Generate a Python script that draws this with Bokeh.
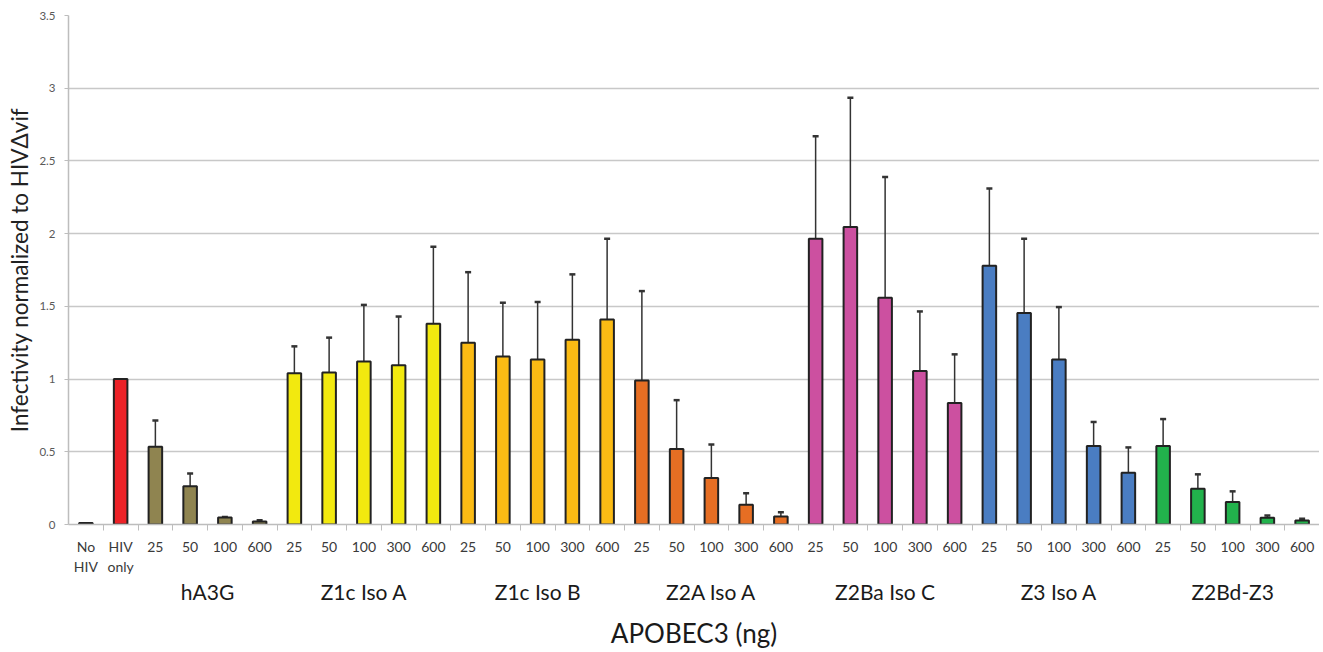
from bokeh.plotting import figure
from bokeh.models import (ColumnDataSource, Whisker, TeeHead, FixedTicker, LinearAxis,
                          NumeralTickFormatter, Range1d)
from bokeh.embed import file_html
from bokeh.resources import INLINE

# ---- data ----
tick_labels = ["No\nHIV", "HIV\nonly",
               "25", "50", "100", "600",
               "25", "50", "100", "300", "600",
               "25", "50", "100", "300", "600",
               "25", "50", "100", "300", "600",
               "25", "50", "100", "300", "600",
               "25", "50", "100", "300", "600",
               "25", "50", "100", "300", "600"]
values = [0.01, 1.00,
          0.535, 0.263, 0.048, 0.02,
          1.04, 1.045, 1.12, 1.095, 1.38,
          1.25, 1.155, 1.135, 1.27, 1.41,
          0.99, 0.52, 0.32, 0.135, 0.055,
          1.965, 2.045, 1.56, 1.055, 0.835,
          1.78, 1.455, 1.135, 0.54, 0.355,
          0.54, 0.245, 0.155, 0.047, 0.028]
error_tops = [None, None,
              0.715, 0.35, 0.052, 0.03,
              1.225, 1.285, 1.51, 1.43, 1.91,
              1.735, 1.525, 1.53, 1.72, 1.965,
              1.605, 0.855, 0.55, 0.215, 0.085,
              2.67, 2.935, 2.39, 1.465, 1.17,
              2.31, 1.965, 1.495, 0.705, 0.53,
              0.725, 0.345, 0.228, 0.062, 0.04]
group_names = ["hA3G", "Z1c Iso A", "Z1c Iso B", "Z2A Iso A", "Z2Ba Iso C", "Z3 Iso A", "Z2Bd-Z3"]
group_sizes = [4, 5, 5, 5, 5, 5, 5]
control_colors = ["#2a2a2a", "#ec2227"]
group_colors = ["#8f8450", "#f2e90f", "#fbbb14", "#e66e23", "#cc50a0", "#4a7dc2", "#22b24c"]

# ---- derived ----
n = len(values)
xs = list(range(n))
colors = list(control_colors)
group_centers = []
start = len(control_colors)
for size, col in zip(group_sizes, group_colors):
    colors += [col] * size
    group_centers.append(start + (size - 1) / 2)
    start += size

bar_src = ColumnDataSource(dict(x=xs, top=values, color=colors))
ex = [x for x, e in zip(xs, error_tops) if e is not None]
ev = [v for v, e in zip(values, error_tops) if e is not None]
eu = [e for e in error_tops if e is not None]
err_src = ColumnDataSource(dict(x=ex, lower=ev, upper=eu))

FONT = "Lato"

p = figure(width=1319, height=651, output_backend="svg", toolbar_location=None,
           x_range=Range1d(-0.5, 35.5), y_range=Range1d(0, 3.5),
           min_border_left=68, min_border_top=15, min_border_right=0, min_border_bottom=127)
p.outline_line_color = None
p.background_fill_color = "white"
p.xgrid.grid_line_color = None
p.ygrid.grid_line_color = "#c8c8c8"
p.ygrid.grid_line_width = 1.5
p.ygrid.ticker = FixedTicker(ticks=[0, 0.5, 1, 1.5, 2, 2.5, 3, 3.5])

err = Whisker(source=err_src, base="x", lower="lower", upper="upper",
              line_color="#333333", line_width=1.5,
              upper_head=TeeHead(size=6, line_color="#333333", line_width=2.5),
              lower_head=None)
p.add_layout(err)

p.vbar(x="x", top="top", width=0.39, source=bar_src, fill_color="color",
       line_color="#222222", line_width=2)

# y axis
ya = p.yaxis[0]
ya.ticker = FixedTicker(ticks=[0, 0.5, 1, 1.5, 2, 2.5, 3, 3.5])
ya.formatter = NumeralTickFormatter(format="0.[0]")
ya.axis_label = "Infectivity normalized to HIV\u0394vif"
ya.axis_label_text_font = FONT
ya.axis_label_text_font_size = "22.5px"
ya.axis_label_text_font_style = "normal"
ya.axis_label_text_color = "#222222"
ya.axis_label_standoff = 3
ya.major_label_text_font = FONT
ya.major_label_text_font_size = "11.5px"
ya.major_label_text_color = "#595959"
ya.major_label_standoff = 9
ya.axis_line_color = "#bdbdbd"
ya.axis_line_width = 1.5
ya.major_tick_line_color = "#bdbdbd"
ya.major_tick_out = 4
ya.major_tick_in = 0
ya.minor_tick_line_color = None

# x axis: doses
xa = p.xaxis[0]
xa.ticker = FixedTicker(ticks=xs, minor_ticks=[x + 0.5 for x in xs])
xa.major_label_overrides = {x: lab for x, lab in zip(xs, tick_labels)}
xa.major_label_text_font = FONT
xa.major_label_text_font_size = "14px"
xa.major_label_text_color = "#3a3a3a"
xa.major_label_standoff = 7
xa.major_tick_line_color = None
xa.major_tick_out = 0
xa.major_tick_in = 0
xa.minor_tick_line_color = "#bdbdbd"
xa.minor_tick_out = 6
xa.minor_tick_in = 0
xa.axis_line_color = "#bdbdbd"
xa.axis_line_width = 1.5

# x axis: groups + title
ga = LinearAxis(ticker=FixedTicker(ticks=group_centers, minor_ticks=[]))
ga.major_label_overrides = {c: g for c, g in zip(group_centers, group_names)}
ga.major_label_text_font = FONT
ga.major_label_text_font_size = "21px"
ga.major_label_text_color = "#1a1a1a"
ga.major_label_standoff = 1
ga.axis_line_color = None
ga.major_tick_line_color = None
ga.minor_tick_line_color = None
ga.major_tick_out = 0
ga.major_tick_in = 0
ga.axis_label = "APOBEC3 (ng)"
ga.axis_label_text_font = FONT
ga.axis_label_text_font_size = "26px"
ga.axis_label_text_font_style = "normal"
ga.axis_label_text_color = "#1a1a1a"
ga.axis_label_standoff = 10
p.add_layout(ga, "below")

open("out.html", "w").write(file_html(p, INLINE))
